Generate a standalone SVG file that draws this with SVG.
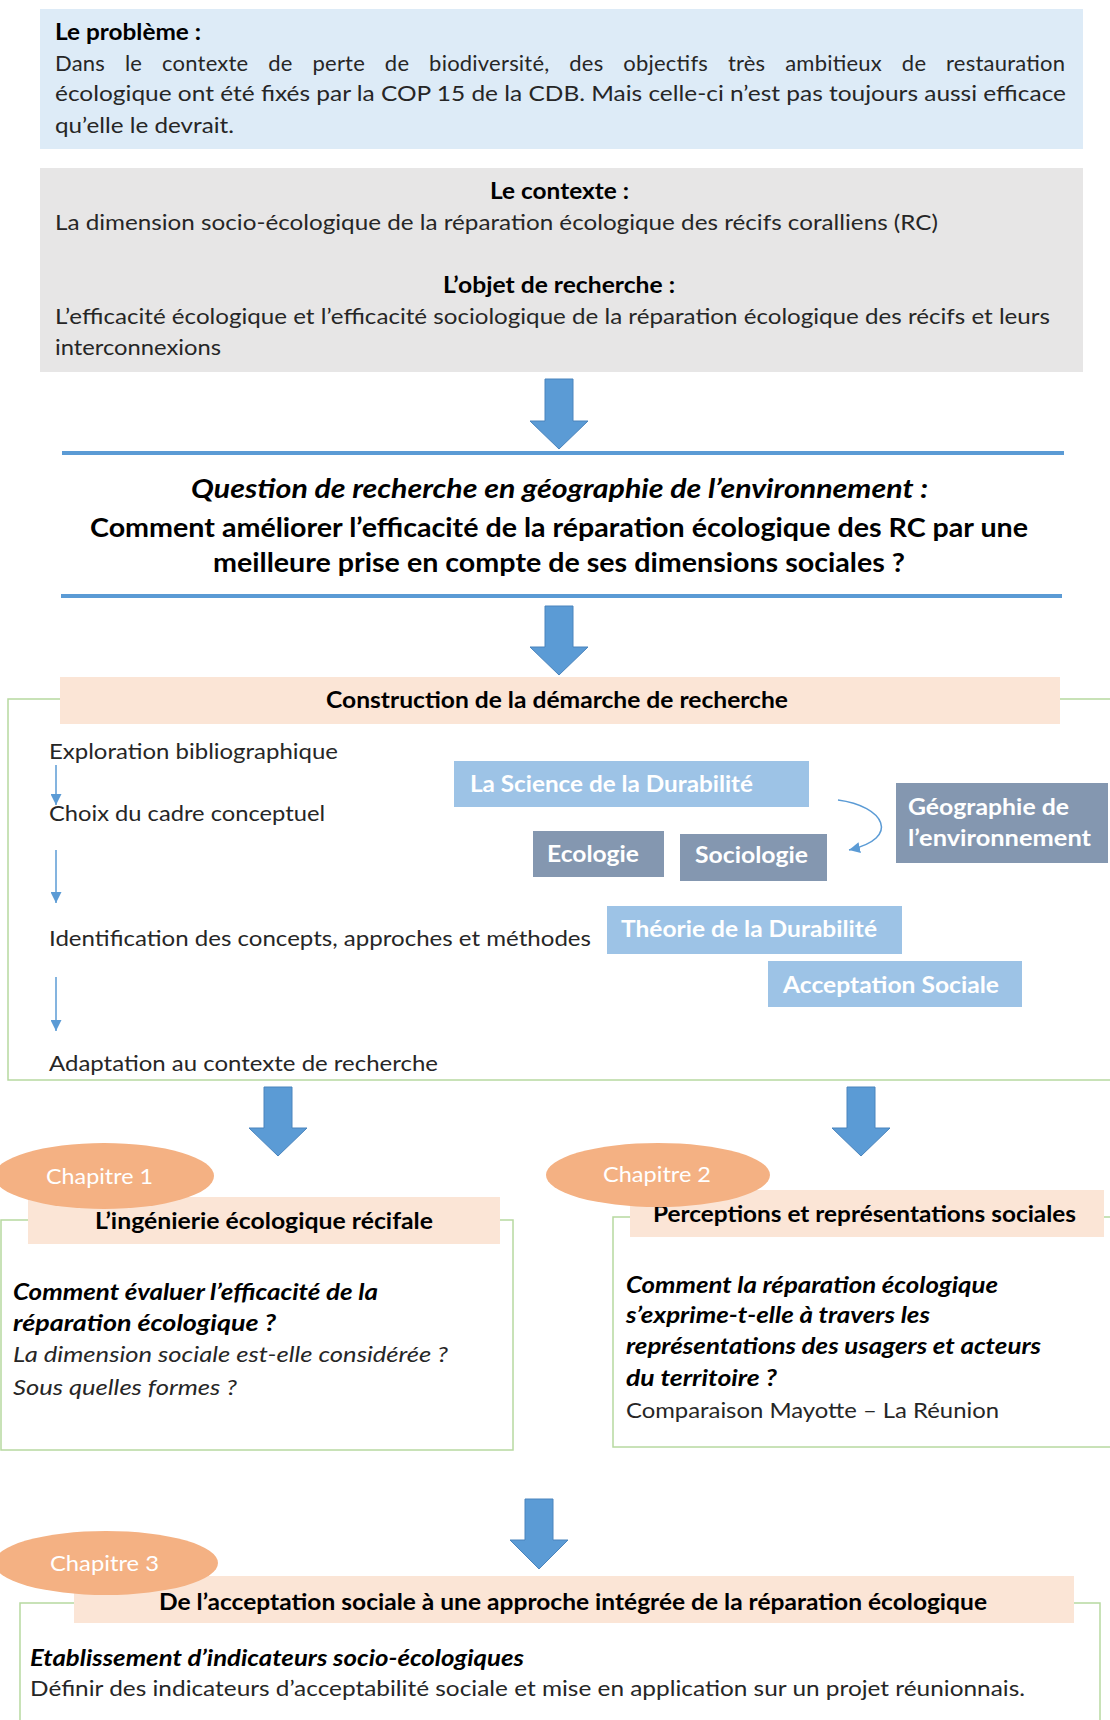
<svg xmlns="http://www.w3.org/2000/svg" width="1110" height="1720" viewBox="0 0 1110 1720">
<defs>
<style>
.t{font-family:Lato,"Open Sans","Liberation Sans",sans-serif;font-size:22px;fill:#262626}
.b{font-weight:bold;fill:#000}
.i{font-style:italic}
.w{fill:#fff;font-weight:bold}
.wl{fill:#fff;font-weight:normal}
.q{font-size:26px}
.arrow{fill:#5B9BD5;stroke:#4a84bd;stroke-width:1}
.green{fill:none;stroke:#B7D9A0;stroke-width:1.5}
.hdr{fill:#FBE5D6}
.lb{fill:#9DC3E6}
.gb{fill:#8497B0}
.ell{fill:#F4B183}
.thin{stroke:#5B9BD5;stroke-width:1.5;fill:none}
.rule{fill:#5B9BD5}
</style>
<marker id="ah" viewBox="0 0 10 10" refX="10" refY="5" markerWidth="11" markerHeight="11" markerUnits="userSpaceOnUse" orient="auto">
<path d="M0,0 L10,5 L0,10 z" fill="#5B9BD5"/>
</marker>
</defs>
<rect width="1110" height="1720" fill="#fff"/>

<g id="probleme">
<rect x="40" y="9" width="1043" height="140" fill="#DDEBF7"/>
<text class="t b" x="55" y="40" textLength="146" lengthAdjust="spacingAndGlyphs">Le problème :</text>
<text class="t" x="55" y="71" word-spacing="14" textLength="1010" lengthAdjust="spacing">Dans le contexte de perte de biodiversité, des objectifs très ambitieux de restauration</text>
<text class="t" x="55" y="101" textLength="1011" lengthAdjust="spacingAndGlyphs">écologique ont été fixés par la COP 15 de la CDB. Mais celle-ci n’est pas toujours aussi efficace</text>
<text class="t" x="55" y="133" textLength="179" lengthAdjust="spacingAndGlyphs">qu’elle le devrait.</text>
</g>

<g id="contexte">
<rect x="40" y="168" width="1043" height="204" fill="#E7E6E6"/>
<text class="t b" x="490" y="199" textLength="139" lengthAdjust="spacingAndGlyphs">Le contexte :</text>
<text class="t" x="55" y="230" textLength="883" lengthAdjust="spacingAndGlyphs">La dimension socio-écologique de la réparation écologique des récifs coralliens (RC)</text>
<text class="t b" x="443" y="293" textLength="232" lengthAdjust="spacingAndGlyphs">L’objet de recherche :</text>
<text class="t" x="55" y="324" textLength="995" lengthAdjust="spacingAndGlyphs">L’efficacité écologique et l’efficacité sociologique de la réparation écologique des récifs et leurs</text>
<text class="t" x="55" y="355" textLength="166" lengthAdjust="spacingAndGlyphs">interconnexions</text>
</g>

<g id="question">
<rect class="rule" x="62" y="451" width="1002" height="4"/>
<rect class="rule" x="61" y="594" width="1001" height="4"/>
<text class="t b i q" x="191" y="498" textLength="737" lengthAdjust="spacingAndGlyphs">Question de recherche en géographie de l’environnement :</text>
<text class="t b q" x="90" y="537" textLength="938" lengthAdjust="spacingAndGlyphs">Comment améliorer l’efficacité de la  réparation écologique des RC par une</text>
<text class="t b q" x="213" y="572" textLength="692" lengthAdjust="spacingAndGlyphs">meilleure prise en compte de ses dimensions sociales ?</text>
</g>

<g id="construction">
<rect class="green" x="8" y="699" width="1110" height="381"/>
<rect class="hdr" x="60" y="677" width="1000" height="47"/>
<text class="t b" x="326" y="708" textLength="462" lengthAdjust="spacingAndGlyphs">Construction de la démarche de recherche</text>
</g>

<g id="etapes">
<text class="t" x="49" y="759" textLength="289" lengthAdjust="spacingAndGlyphs">Exploration bibliographique</text>
<text class="t" x="49" y="821" textLength="276" lengthAdjust="spacingAndGlyphs">Choix du cadre conceptuel</text>
<text class="t" x="49" y="946" textLength="542" lengthAdjust="spacingAndGlyphs">Identification des concepts, approches et méthodes</text>
<text class="t" x="49" y="1071" textLength="389" lengthAdjust="spacingAndGlyphs">Adaptation au contexte de recherche</text>
</g>

<g id="science-durabilite">
<rect class="lb" x="454" y="761" width="355" height="46"/>
<text class="t w" x="470" y="792" textLength="283" lengthAdjust="spacingAndGlyphs">La Science de la Durabilité</text>
</g>
<g id="ecologie">
<rect class="gb" x="533" y="831" width="131" height="46"/>
<text class="t w" x="547" y="862" textLength="92" lengthAdjust="spacingAndGlyphs">Ecologie</text>
</g>
<g id="sociologie">
<rect class="gb" x="680" y="834" width="147" height="47"/>
<text class="t w" x="695" y="863" textLength="113" lengthAdjust="spacingAndGlyphs">Sociologie</text>
</g>
<g id="geographie">
<rect class="gb" x="896" y="783" width="212" height="80"/>
<text class="t w" x="908" y="815" textLength="161" lengthAdjust="spacingAndGlyphs">Géographie de</text>
<text class="t w" x="908" y="846" textLength="183" lengthAdjust="spacingAndGlyphs">l’environnement</text>
</g>
<g id="theorie-durabilite">
<rect class="lb" x="607" y="906" width="295" height="48"/>
<text class="t w" x="621" y="937" textLength="256" lengthAdjust="spacingAndGlyphs">Théorie de la Durabilité</text>
</g>
<g id="acceptation-sociale">
<rect class="lb" x="768" y="961" width="254" height="46"/>
<text class="t w" x="783" y="993" textLength="216" lengthAdjust="spacingAndGlyphs">Acceptation Sociale</text>
</g>

<g id="chapitre1">
<rect class="green" x="1" y="1220" width="512" height="230"/>
<rect class="hdr" x="28" y="1197" width="472" height="47"/>
<text class="t b" x="95" y="1229" textLength="338" lengthAdjust="spacingAndGlyphs">L’ingénierie écologique récifale</text>
<ellipse class="ell" cx="104" cy="1176" rx="110" ry="33"/>
<text class="t wl" x="46" y="1184" textLength="107" lengthAdjust="spacingAndGlyphs">Chapitre 1</text>
<text class="t b i" x="13" y="1300" textLength="365" lengthAdjust="spacingAndGlyphs">Comment évaluer l’efficacité de la</text>
<text class="t b i" x="13" y="1331" textLength="263" lengthAdjust="spacingAndGlyphs">réparation écologique  ?</text>
<text class="t i" x="13" y="1362" textLength="435" lengthAdjust="spacingAndGlyphs">La dimension sociale est-elle considérée ?</text>
<text class="t i" x="13" y="1395" textLength="224" lengthAdjust="spacingAndGlyphs">Sous quelles formes ?</text>
</g>

<g id="chapitre2">
<rect class="green" x="613" y="1217" width="505" height="230"/>
<rect class="hdr" x="630" y="1190" width="474" height="47"/>
<text class="t b" x="653" y="1222" textLength="423" lengthAdjust="spacingAndGlyphs">Perceptions et représentations sociales</text>
<ellipse class="ell" cx="658" cy="1175" rx="112" ry="32"/>
<text class="t wl" x="603" y="1182" textLength="108" lengthAdjust="spacingAndGlyphs">Chapitre 2</text>
<text class="t b i" x="626" y="1293" textLength="372" lengthAdjust="spacingAndGlyphs">Comment la réparation écologique</text>
<text class="t b i" x="626" y="1323" textLength="304" lengthAdjust="spacingAndGlyphs">s’exprime-t-elle à travers les</text>
<text class="t b i" x="626" y="1354" textLength="415" lengthAdjust="spacingAndGlyphs">représentations des usagers et acteurs</text>
<text class="t b i" x="626" y="1386" textLength="151" lengthAdjust="spacingAndGlyphs">du territoire ?</text>
<text class="t" x="626" y="1418" textLength="373" lengthAdjust="spacingAndGlyphs">Comparaison Mayotte – La Réunion</text>
</g>

<g id="chapitre3">
<rect class="green" x="20" y="1603" width="1080" height="130"/>
<rect class="hdr" x="74" y="1576" width="1000" height="47"/>
<text class="t b" x="159" y="1610" textLength="828" lengthAdjust="spacingAndGlyphs">De l’acceptation sociale à une approche intégrée de la réparation écologique</text>
<ellipse class="ell" cx="106" cy="1563" rx="112" ry="32"/>
<text class="t wl" x="50" y="1571" textLength="109" lengthAdjust="spacingAndGlyphs">Chapitre 3</text>
<text class="t b i" x="30" y="1666" textLength="494" lengthAdjust="spacingAndGlyphs">Etablissement d’indicateurs socio-écologiques</text>
<text class="t" x="30" y="1696" textLength="995" lengthAdjust="spacingAndGlyphs">Définir des indicateurs d’acceptabilité sociale et mise en application sur un projet  réunionnais.</text>
</g>

<g id="connecteurs">
<path class="arrow" d="M545 379 H573 V421 H588 L559 449 L530 421 H545 Z"/>
<path class="arrow" d="M545 606 H573 V647 H588 L559 675 L530 647 H545 Z"/>
<path class="arrow" d="M264 1087 H292 V1128 H307 L278 1156 L249 1128 H264 Z"/>
<path class="arrow" d="M847 1087 H875 V1128 H890 L861 1156 L832 1128 H847 Z"/>
<path class="arrow" d="M525 1499 H553 V1540 H568 L539 1569 L510 1540 H525 Z"/>
<line class="thin" x1="56" y1="765" x2="56" y2="805" marker-end="url(#ah)"/>
<line class="thin" x1="56" y1="850" x2="56" y2="903" marker-end="url(#ah)"/>
<line class="thin" x1="56" y1="977" x2="56" y2="1031" marker-end="url(#ah)"/>
<path class="thin" d="M838 800 C884 806 902 838 849 850" marker-end="url(#ah)"/>
</g>
</svg>
